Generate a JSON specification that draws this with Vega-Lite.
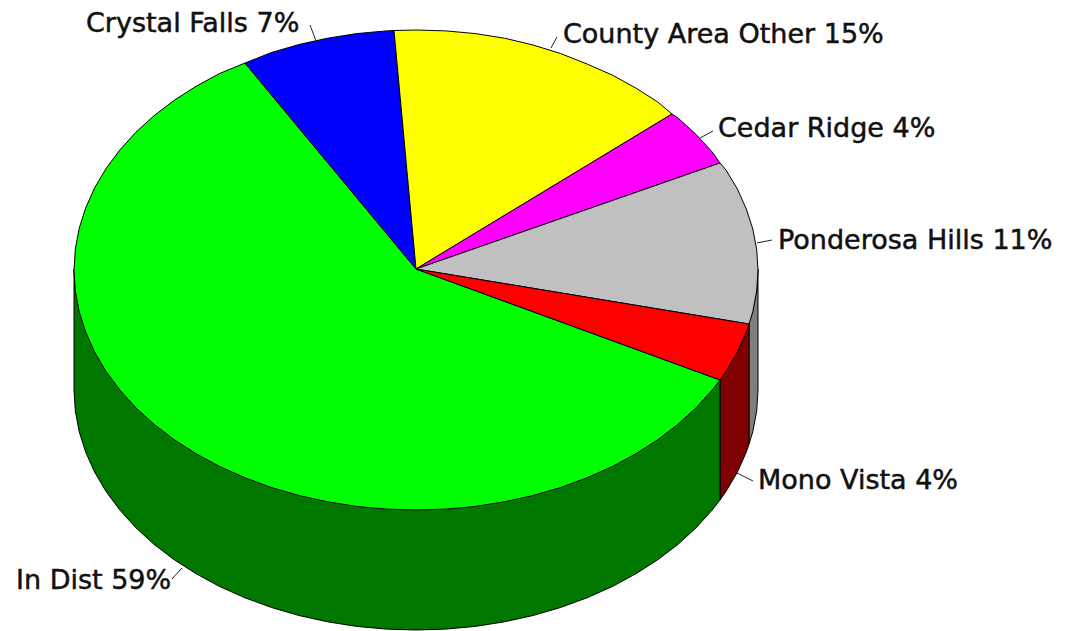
{
  "$schema": "https://vega.github.io/schema/vega-lite/v6.json",
  "autosize": {"type": "fit", "contains": "padding"},
  "width": 1072,
  "height": 631,
  "padding": 0,
  "background": "white",
  "view": {"stroke": null},
  "datasets": {
    "walls": [
      {"slice": "Ponderosa Hills", "x": [758,756.7,752.8,749,749,752.8,756.7,758,758], "y": [269,289.9,310.7,323,444,431.7,410.9,390,269]},
      {"slice": "Mono Vista", "x": [749,746.3,737.4,726,720,720,726,737.4,746.3,749,749], "y": [323,331.1,351.1,370.4,379,500,491.4,472.1,452.1,444,323]},
      {"slice": "In Dist", "x": [720,712.2,696.2,678,657.8,635.8,612.2,587,560.5,533,504.5,475.4,445.8,416,386.2,356.6,327.5,299,271.5,245,219.8,196.2,174.2,154,135.8,119.8,106,94.6,85.7,79.2,75.3,74,74,75.3,79.2,85.7,94.6,106,119.8,135.8,154,174.2,196.2,219.8,245,271.5,299,327.5,356.6,386.2,416,445.8,475.4,504.5,533,560.5,587,612.2,635.8,657.8,678,696.2,712.2,720,720], "y": [379,389,406.7,423.3,438.7,452.8,465.6,476.8,486.5,494.5,500.8,505.4,508.1,509,508.1,505.4,500.8,494.5,486.5,476.8,465.6,452.8,438.7,423.3,406.7,389,370.4,351.1,331.1,310.7,289.9,269,390,410.9,431.7,452.1,472.1,491.4,510,527.7,544.3,559.7,573.8,586.6,597.8,607.5,615.5,621.8,626.4,629.1,630,629.1,626.4,621.8,615.5,607.5,597.8,586.6,573.8,559.7,544.3,527.7,510,500,379]}
    ],
    "faces": [
      {"slice": "In Dist", "x": [416,720,712.2,696.2,678,657.8,635.8,612.2,587,560.5,533,504.5,475.4,445.8,416,386.2,356.6,327.5,299,271.5,245,219.8,196.2,174.2,154,135.8,119.8,106,94.6,85.7,79.2,75.3,74,75.3,79.2,85.7,94.6,106,119.8,135.8,154,174.2,196.2,219.8,245,416], "y": [269,380,390,407.7,424.3,439.7,453.8,466.6,477.8,487.5,495.5,501.8,506.4,509.1,510,509.1,506.4,501.8,495.5,487.5,477.8,466.6,453.8,439.7,424.3,407.7,390,371.4,352.1,332.1,311.7,290.9,270,249.1,228.3,207.9,187.9,168.6,150,132.3,115.7,100.3,86.2,73.4,63,269]},
      {"slice": "Crystal Falls", "x": [416,245,271.5,299,327.5,356.6,386.2,394,416], "y": [269,63,52.5,44.5,38.2,33.6,30.9,30.5,269]},
      {"slice": "County Area Other", "x": [416,394,416,445.8,475.4,504.5,533,560.5,587,612.2,635.8,657.8,672,416], "y": [269,30.5,30,30.9,33.6,38.2,45,53.5,64,75,88,102,114,269]},
      {"slice": "Cedar Ridge", "x": [416,672,678,696.2,712.2,720,416], "y": [269,114,118,134.5,152,163,269]},
      {"slice": "Ponderosa Hills", "x": [416,720,726,737.4,746.3,752.8,756.7,758,756.7,752.8,749,416], "y": [269,163,170,189,209,229,249.5,270,290.9,311.7,324,269]},
      {"slice": "Mono Vista", "x": [416,749,746.3,737.4,726,720,416], "y": [269,324,332.1,352.1,371.4,380,269]}
    ],
    "leaders": [
      {"slice": "Crystal Falls", "x": [310,316], "y": [25,41]},
      {"slice": "County Area Other", "x": [551,557], "y": [48,37]},
      {"slice": "Cedar Ridge", "x": [700,713], "y": [138,131]},
      {"slice": "Ponderosa Hills", "x": [757,772], "y": [243,240]},
      {"slice": "Mono Vista", "x": [737,753], "y": [473,481]},
      {"slice": "In Dist", "x": [172,182], "y": [579,568]}
    ],
    "labels": [
      {"label": "Crystal Falls 7%", "x": 86, "y": 24},
      {"label": "County Area Other 15%", "x": 563, "y": 35},
      {"label": "Cedar Ridge 4%", "x": 718, "y": 129},
      {"label": "Ponderosa Hills 11%", "x": 778, "y": 241},
      {"label": "Mono Vista 4%", "x": 758, "y": 481},
      {"label": "In Dist 59%", "x": 16, "y": 581}
    ]
  },
  "layer": [
    {
      "data": {"name": "walls"},
      "transform": [
        {"flatten": ["x", "y"]},
        {"window": [{"op": "row_number", "as": "step"}]}
      ],
      "mark": {"type": "line", "stroke": "black", "strokeWidth": 1, "strokeJoin": "round", "clip": false},
      "encoding": {
        "x": {"field": "x", "type": "quantitative", "scale": {"domain": [0, 1072], "nice": false, "zero": false}, "axis": null},
        "y": {"field": "y", "type": "quantitative", "scale": {"domain": [631, 0], "nice": false, "zero": false}, "axis": null},
        "order": {"field": "step"},
        "detail": {"field": "slice"},
        "fill": {
          "field": "slice",
          "type": "nominal",
          "legend": null,
          "scale": {"domain": ["In Dist", "Mono Vista", "Ponderosa Hills"], "range": ["#007800", "#7f0000", "#7f7f7f"]}
        }
      }
    },
    {
      "data": {"name": "faces"},
      "transform": [
        {"flatten": ["x", "y"]},
        {"window": [{"op": "row_number", "as": "step"}]}
      ],
      "mark": {"type": "line", "stroke": "black", "strokeWidth": 1, "strokeJoin": "round", "clip": false},
      "encoding": {
        "x": {"field": "x", "type": "quantitative", "scale": {"domain": [0, 1072], "nice": false, "zero": false}, "axis": null},
        "y": {"field": "y", "type": "quantitative", "scale": {"domain": [631, 0], "nice": false, "zero": false}, "axis": null},
        "order": {"field": "step"},
        "detail": {"field": "slice"},
        "fill": {
          "field": "slice",
          "type": "nominal",
          "legend": null,
          "scale": {
            "domain": ["In Dist", "Crystal Falls", "County Area Other", "Cedar Ridge", "Ponderosa Hills", "Mono Vista"],
            "range": ["#00ff00", "#0000ff", "#ffff00", "#ff00ff", "#c0c0c0", "#ff0000"]
          }
        }
      }
    },
    {
      "data": {"name": "leaders"},
      "transform": [
        {"flatten": ["x", "y"]},
        {"window": [{"op": "row_number", "as": "step"}]}
      ],
      "mark": {"type": "line", "stroke": "#222222", "strokeWidth": 1},
      "encoding": {
        "x": {"field": "x", "type": "quantitative", "scale": {"domain": [0, 1072], "nice": false, "zero": false}, "axis": null},
        "y": {"field": "y", "type": "quantitative", "scale": {"domain": [631, 0], "nice": false, "zero": false}, "axis": null},
        "order": {"field": "step"},
        "detail": {"field": "slice"}
      }
    },
    {
      "data": {"name": "labels"},
      "mark": {"type": "text", "align": "left", "baseline": "middle", "font": "DejaVu Sans", "fontSize": 27, "fill": "#111111", "stroke": "#111111", "strokeWidth": 0.5},
      "encoding": {
        "x": {"field": "x", "type": "quantitative", "scale": {"domain": [0, 1072], "nice": false, "zero": false}, "axis": null},
        "y": {"field": "y", "type": "quantitative", "scale": {"domain": [631, 0], "nice": false, "zero": false}, "axis": null},
        "text": {"field": "label", "type": "nominal"}
      }
    }
  ],
  "resolve": {"scale": {"fill": "independent"}}
}
